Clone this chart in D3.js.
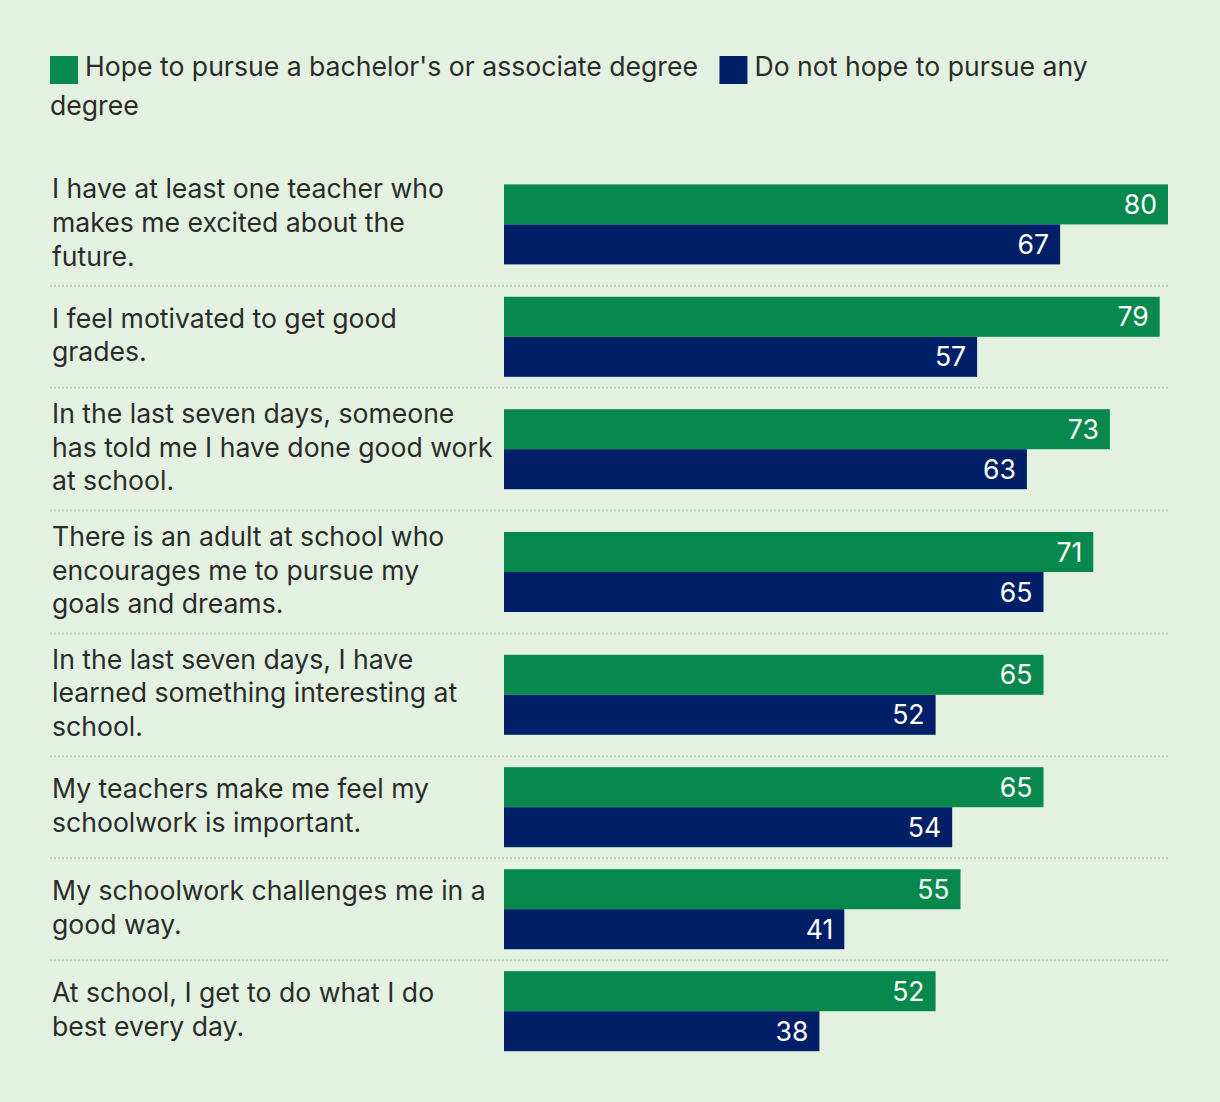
<!DOCTYPE html>
<html>
<head>
<meta charset="utf-8">
<script src="https://cdn.jsdelivr.net/npm/d3@7"></script>
<style>
  html, body { margin: 0; padding: 0; background: #e3f1e1; }
  svg { display: block; }
  text { font-family: Inter, "Noto Sans", sans-serif; }
</style>
</head>
<body>
<svg id="chart" width="1220" height="1102"></svg>
<script>
const categories = [
  "I have at least one teacher who\nmakes me excited about the\nfuture.",
  "I feel motivated to get good\ngrades.",
  "In the last seven days, someone\nhas told me I have done good work\nat school.",
  "There is an adult at school who\nencourages me to pursue my\ngoals and dreams.",
  "In the last seven days, I have\nlearned something interesting at\nschool.",
  "My teachers make me feel my\nschoolwork is important.",
  "My schoolwork challenges me in a\ngood way.",
  "At school, I get to do what I do\nbest every day."
];
const seriesNames = [
  "Hope to pursue a bachelor's or associate degree",
  "Do not hope to pursue any degree"
];
const hopeDegree = [80, 79, 73, 71, 65, 65, 55, 52];
const noDegree = [67, 57, 63, 65, 52, 54, 41, 38];
const seriesColors = ["#07884d", "#001f66"];

const svg = d3.select("#chart");
const W = 1220, H = 1102;
svg.append("rect").attr("width", W).attr("height", H).attr("fill", "#e3f1e1");

const fontSize = 26.6;
const textColor = "#2b2b2b";

// ---- Legend (inline flow with wrapping) ----
const legendLeft = 50, legendRight = 1160, legendBaseline = 76, legendLineH = 39;
const legend = svg.append("g");
const measure = svg.append("text").attr("font-size", fontSize).attr("visibility", "hidden");
function tw(s) { measure.text(s); return measure.node().getComputedTextLength(); }
const spaceW = tw("a b") - tw("ab");
let cx = legendLeft, line = 0;
seriesNames.forEach((name, i) => {
  const sq = 28;
  if (cx + sq > legendRight) { cx = legendLeft; line++; }
  legend.append("rect")
    .attr("x", cx).attr("y", legendBaseline + line * legendLineH - 20)
    .attr("width", sq).attr("height", sq).attr("fill", seriesColors[i]);
  cx += sq + 7;
  const words = name.split(" ");
  words.forEach((w, j) => {
    const ww = tw(w);
    if (cx + ww > legendRight) { cx = legendLeft; line++; }
    legend.append("text")
      .attr("x", cx).attr("y", legendBaseline + line * legendLineH)
      .attr("font-size", fontSize).attr("fill", textColor).text(w);
    cx += ww + spaceW;
  });
  cx += 14;
});

// ---- Chart rows ----
const x = d3.scaleLinear().domain([0, 80]).range([504, 1168]);
const barH = 40;
const inner = d3.scaleBand().domain([0, 1]).range([0, 2 * barH]).padding(0);
const lineH = 33.6, rowPad = 22;
const labelX = 52;

let y0 = 163;
const rows = categories.map((c, i) => {
  const lines = c.split("\n");
  const h = Math.max(2 * barH, lines.length * lineH) + rowPad;
  const r = { i, lines, top: y0, h };
  y0 += h;
  return r;
});

const g = svg.append("g");
rows.forEach((r, k) => {
  const row = g.append("g");
  const mid = r.top + r.h / 2;
  if (k > 0) {
    row.append("line")
      .attr("x1", 50).attr("x2", 1168)
      .attr("y1", r.top).attr("y2", r.top)
      .attr("stroke", "#c3cec1").attr("stroke-width", 2)
      .attr("stroke-dasharray", "2,2");
  }
  const tStart = mid - (r.lines.length * lineH) / 2 - 2;
  const t = row.append("text").attr("font-size", fontSize).attr("fill", textColor);
  r.lines.forEach((ln, j) => {
    t.append("tspan").attr("x", labelX)
      .attr("y", tStart + j * lineH + lineH / 2)
      .attr("dy", "0.36em").text(ln);
  });
  const barTop = mid - barH;
  const vals = [hopeDegree[r.i], noDegree[r.i]];
  vals.forEach((v, s) => {
    const by = barTop + inner(s);
    row.append("rect")
      .attr("x", x(0)).attr("y", by)
      .attr("width", x(v) - x(0)).attr("height", inner.bandwidth())
      .attr("fill", seriesColors[s]);
    row.append("text")
      .attr("x", x(v) - 11).attr("y", by + inner.bandwidth() / 2)
      .attr("dy", "0.36em").attr("text-anchor", "end")
      .attr("font-size", fontSize).attr("fill", "#ffffff").text(v);
  });
});
measure.remove();
</script>
</body>
</html>
